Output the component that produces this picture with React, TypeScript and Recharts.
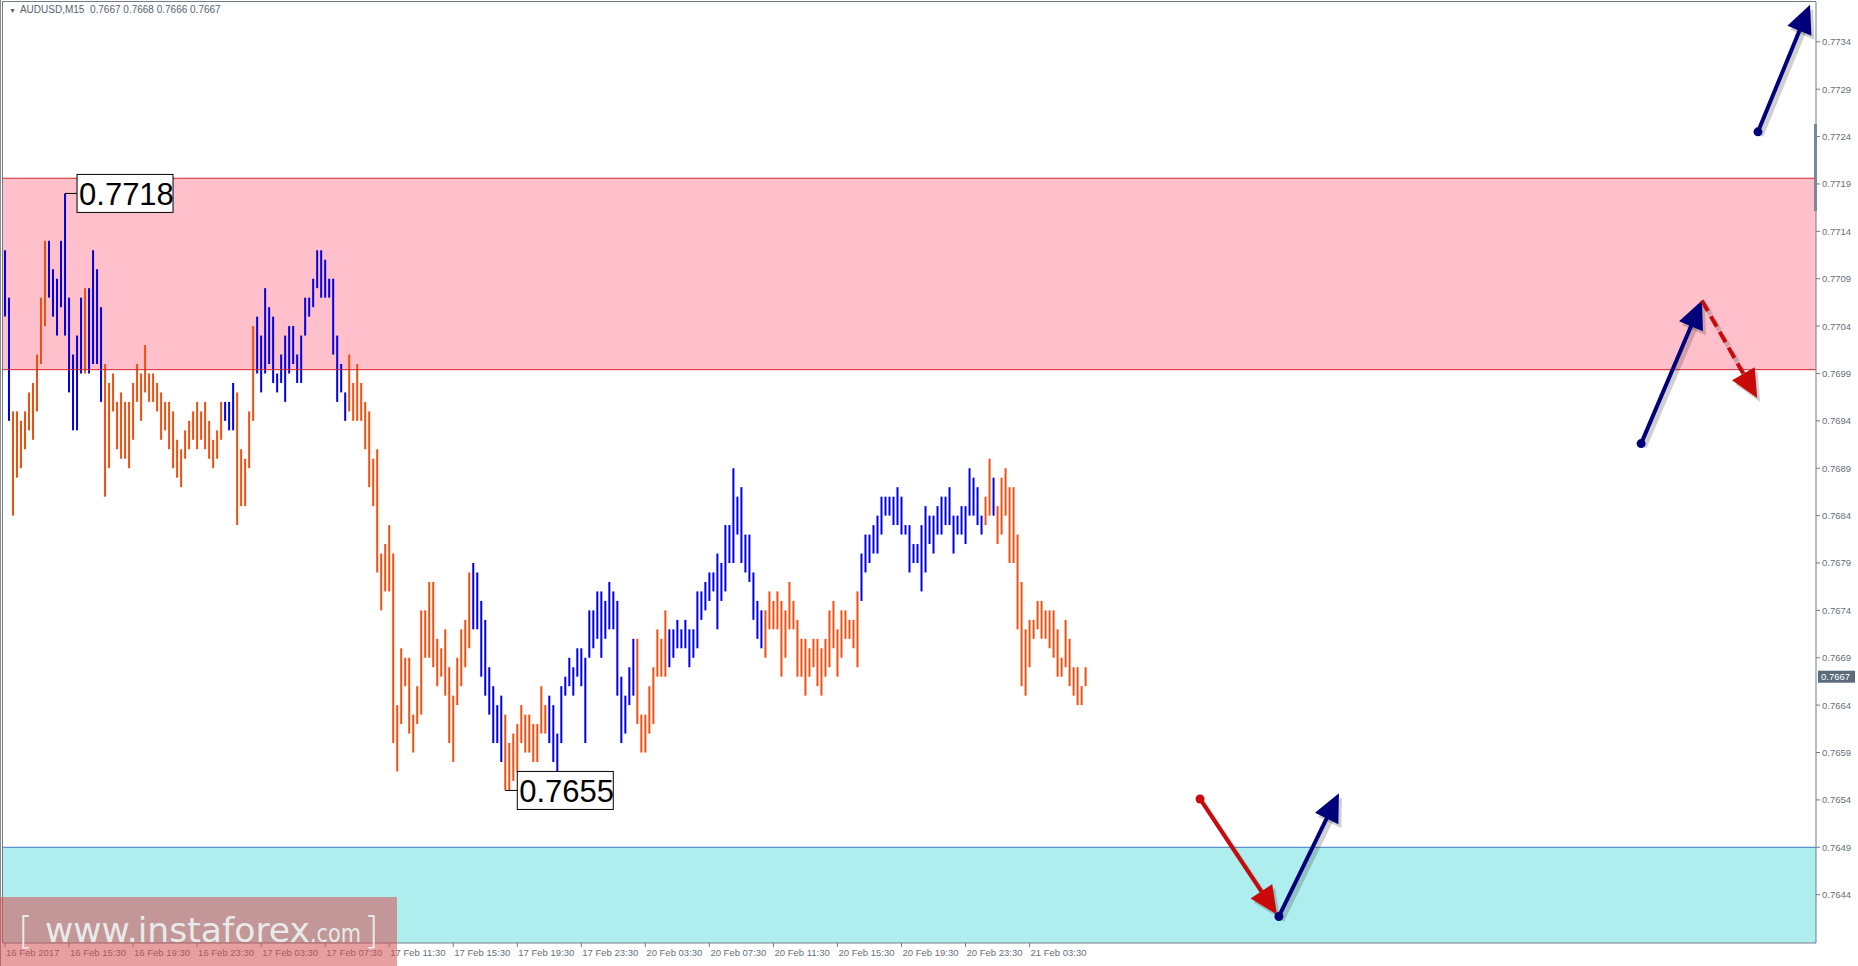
import React from "react";
import {
  ComposedChart, Bar, Cell, XAxis, YAxis,
  ReferenceArea, ReferenceLine, ReferenceDot
} from "recharts";

// AUDUSD M15 bars (high / low per bar, oldest first)
const highs = [
  0.7712, 0.7707, 0.7695, 0.7695, 0.7694, 0.7695, 0.7697, 0.7698, 0.7701, 0.7707,
  0.7713, 0.7713, 0.7710, 0.7709, 0.7713, 0.7718, 0.7707, 0.7701, 0.7703, 0.7707,
  0.7708, 0.7708, 0.7712, 0.7710, 0.7706, 0.7700, 0.7698, 0.7699, 0.7696, 0.7697,
  0.7696, 0.7696, 0.7698, 0.7700, 0.7699, 0.7702, 0.7699, 0.7699, 0.7698, 0.7697,
  0.7696, 0.7696, 0.7695, 0.7692, 0.7691, 0.7693, 0.7694, 0.7695, 0.7696, 0.7695,
  0.7696, 0.7694, 0.7692, 0.7693, 0.7696, 0.7696, 0.7696, 0.7698, 0.7697, 0.7691,
  0.7690, 0.7695, 0.7704, 0.7705, 0.7703, 0.7708, 0.7706, 0.7705, 0.7699, 0.7701,
  0.7703, 0.7704, 0.7704, 0.7701, 0.7703, 0.7707, 0.7707, 0.7709, 0.7712, 0.7712,
  0.7711, 0.7709, 0.7709, 0.7703, 0.7700, 0.7697, 0.7701, 0.7698, 0.7700, 0.7698,
  0.7696, 0.7695, 0.7690, 0.7691, 0.7680, 0.7681, 0.7683, 0.7680, 0.7664, 0.7670,
  0.7669, 0.7669, 0.7663, 0.7666, 0.7674, 0.7674, 0.7677, 0.7677, 0.7671, 0.7670,
  0.7672, 0.7668, 0.7665, 0.7669, 0.7672, 0.7673, 0.7678, 0.7679, 0.7678, 0.7675,
  0.7673, 0.7668, 0.7666, 0.7664, 0.7665, 0.7663, 0.7660, 0.7661, 0.7662, 0.7664,
  0.7663, 0.7663, 0.7662, 0.7662, 0.7666, 0.7664, 0.7665, 0.7664, 0.7661, 0.7666,
  0.7667, 0.7669, 0.7668, 0.7670, 0.7670, 0.7669, 0.7674, 0.7674, 0.7676, 0.7676,
  0.7675, 0.7677, 0.7676, 0.7675, 0.7667, 0.7665, 0.7668, 0.7671, 0.7671, 0.7663,
  0.7663, 0.7666, 0.7668, 0.7672, 0.7671, 0.7674, 0.7672, 0.7672, 0.7673, 0.7672,
  0.7673, 0.7672, 0.7672, 0.7676, 0.7676, 0.7677, 0.7678, 0.7678, 0.7680, 0.7679,
  0.7683, 0.7683, 0.7689, 0.7686, 0.7687, 0.7682, 0.7682, 0.7678, 0.7675, 0.7674,
  0.7674, 0.7676, 0.7675, 0.7676, 0.7675, 0.7674, 0.7677, 0.7675, 0.7673, 0.7671,
  0.7671, 0.7670, 0.7671, 0.7671, 0.7670, 0.7671, 0.7674, 0.7675, 0.7672, 0.7674,
  0.7674, 0.7673, 0.7673, 0.7676, 0.7680, 0.7682, 0.7682, 0.7683, 0.7684, 0.7686,
  0.7686, 0.7686, 0.7686, 0.7687, 0.7686, 0.7683, 0.7683, 0.7681, 0.7681, 0.7683,
  0.7685, 0.7684, 0.7684, 0.7685, 0.7686, 0.7686, 0.7687, 0.7684, 0.7684, 0.7685,
  0.7685, 0.7689, 0.7688, 0.7687, 0.7684, 0.7686, 0.7690, 0.7688, 0.7685, 0.7688,
  0.7689, 0.7687, 0.7687, 0.7682, 0.7677, 0.7672, 0.7673, 0.7673, 0.7675, 0.7675,
  0.7674, 0.7674, 0.7674, 0.7672, 0.7669, 0.7673, 0.7671, 0.7668, 0.7668, 0.7666,
  0.7668,
];

const lows = [
  0.7705, 0.7694, 0.7684, 0.7688, 0.7689, 0.7691, 0.7693, 0.7692, 0.7695, 0.7700,
  0.7704, 0.7707, 0.7705, 0.7703, 0.7706, 0.7703, 0.7697, 0.7693, 0.7693, 0.7699,
  0.7699, 0.7699, 0.7700, 0.7700, 0.7696, 0.7686, 0.7689, 0.7695, 0.7691, 0.7690,
  0.7690, 0.7689, 0.7692, 0.7696, 0.7694, 0.7697, 0.7696, 0.7696, 0.7695, 0.7692,
  0.7693, 0.7691, 0.7689, 0.7688, 0.7687, 0.7690, 0.7691, 0.7692, 0.7691, 0.7692,
  0.7691, 0.7690, 0.7689, 0.7690, 0.7692, 0.7694, 0.7693, 0.7693, 0.7683, 0.7685,
  0.7685, 0.7689, 0.7694, 0.7699, 0.7697, 0.7699, 0.7700, 0.7698, 0.7697, 0.7698,
  0.7696, 0.7699, 0.7700, 0.7698, 0.7698, 0.7703, 0.7705, 0.7706, 0.7708, 0.7707,
  0.7707, 0.7707, 0.7701, 0.7696, 0.7697, 0.7694, 0.7695, 0.7694, 0.7694, 0.7694,
  0.7691, 0.7687, 0.7685, 0.7678, 0.7674, 0.7676, 0.7676, 0.7660, 0.7657, 0.7662,
  0.7666, 0.7661, 0.7659, 0.7662, 0.7663, 0.7669, 0.7669, 0.7668, 0.7666, 0.7667,
  0.7665, 0.7660, 0.7658, 0.7664, 0.7666, 0.7668, 0.7670, 0.7672, 0.7672, 0.7667,
  0.7665, 0.7663, 0.7660, 0.7660, 0.7658, 0.7655, 0.7655, 0.7656, 0.7657, 0.7660,
  0.7659, 0.7659, 0.7658, 0.7658, 0.7661, 0.7661, 0.7660, 0.7658, 0.7657, 0.7660,
  0.7665, 0.7666, 0.7665, 0.7667, 0.7666, 0.7660, 0.7669, 0.7670, 0.7671, 0.7669,
  0.7671, 0.7672, 0.7672, 0.7665, 0.7660, 0.7661, 0.7664, 0.7665, 0.7662, 0.7659,
  0.7659, 0.7661, 0.7662, 0.7667, 0.7667, 0.7667, 0.7668, 0.7669, 0.7670, 0.7670,
  0.7670, 0.7668, 0.7669, 0.7670, 0.7673, 0.7674, 0.7675, 0.7676, 0.7672, 0.7675,
  0.7676, 0.7679, 0.7679, 0.7682, 0.7679, 0.7678, 0.7677, 0.7673, 0.7671, 0.7670,
  0.7669, 0.7672, 0.7672, 0.7672, 0.7667, 0.7669, 0.7672, 0.7672, 0.7667, 0.7667,
  0.7665, 0.7667, 0.7668, 0.7666, 0.7665, 0.7667, 0.7668, 0.7670, 0.7667, 0.7669,
  0.7671, 0.7671, 0.7670, 0.7668, 0.7675, 0.7678, 0.7679, 0.7680, 0.7680, 0.7682,
  0.7684, 0.7684, 0.7683, 0.7683, 0.7682, 0.7682, 0.7678, 0.7679, 0.7679, 0.7676,
  0.7678, 0.7681, 0.7680, 0.7682, 0.7682, 0.7683, 0.7683, 0.7680, 0.7682, 0.7682,
  0.7681, 0.7684, 0.7684, 0.7683, 0.7682, 0.7683, 0.7684, 0.7684, 0.7681, 0.7682,
  0.7684, 0.7679, 0.7679, 0.7672, 0.7666, 0.7665, 0.7668, 0.7671, 0.7672, 0.7671,
  0.7671, 0.7670, 0.7669, 0.7667, 0.7667, 0.7668, 0.7666, 0.7665, 0.7664, 0.7664,
  0.7666,
];

// u = up bar (blue), d = down bar (orange)
const barDir = [
  "uudddddddd", "duuuuuuuuu", "duuuuddddd", "dddddddddd", "dddddddddd",
  "ddddduuudd", "ddduuuuuuu", "uuuuuuuuuu", "uuuuuudddd", "dddddddddd",
  "dddddddddd", "ddddddduuu", "uuuuuddddd", "dddddduuuu", "uuuuuuuuuu",
  "uuuuuuuudd", "dddddduuuu", "uuuuuuuuuu", "uuuuuuuuuu", "dddddddddd",
  "dddddddddd", "dddduuuuuu", "uuuuuuuuuu", "uuuuuuuuuu", "uuuuuddudd",
  "dddddddddd", "dddddddddd", "d",
].join("");

const timeTicks = [0, 16, 32, 48, 64, 80, 96, 112, 128, 144, 160, 176, 192, 208, 224, 240, 256];
const timeLabels = [
  "16 Feb 2017", "16 Feb 15:30", "16 Feb 19:30", "16 Feb 23:30", "17 Feb 03:30",
  "17 Feb 07:30", "17 Feb 11:30", "17 Feb 15:30", "17 Feb 19:30", "17 Feb 23:30",
  "20 Feb 03:30", "20 Feb 07:30", "20 Feb 11:30", "20 Feb 15:30", "20 Feb 19:30",
  "20 Feb 23:30", "21 Feb 03:30",
];

const priceTicks = [
  0.7734, 0.7729, 0.7724, 0.7719, 0.7714, 0.7709, 0.7704, 0.7699, 0.7694, 0.7689,
  0.7684, 0.7679, 0.7674, 0.7669, 0.7664, 0.7659, 0.7654, 0.7649, 0.7644,
];
const lastPrice = 0.7667;

// zones
const sellZone = [0.76994, 0.77196];
const buyZoneTop = 0.7649;

// swing labels [bar index, price]
const swingHigh = [15, 0.7718];
const swingLow = [125, 0.7655];

// forecast arrows: start [bar, price], end [bar, price]
const arrowFrom = [[438.0, 0.77245], [408.8, 0.76916], [424.0, 0.77067], [298.6, 0.76541], [318.3, 0.76417]];
const arrowTo = [[451.0, 0.77379], [424.0, 0.77067], [437.8, 0.76964], [317.8, 0.76419], [333.3, 0.76547]];
const arrowKind = ["up", "up", "downDash", "down", "up"];

const X_DOMAIN = [-0.5, 452.5];
const Y_DOMAIN = [0.76389, 0.77382];

const BLUE = "#0000e2";
const ORANGE = "#f0500f";
const NAVY = "#00007a";
const RED = "#c80a0a";
const AXIS = "#6f7d8a";
const TXT = "#66707a";
const FONT = "'Liberation Sans', Arial, sans-serif";

const data = highs.map((h, i) => ({ i, hl: [lows[i], h], up: barDir[i] === "u" }));

const XTick = (props: any) => {
  const { x, y, payload } = props;
  const label = timeLabels[timeTicks.indexOf(payload.value)];
  return (
    <g>
      <line x1={x} y1={y} x2={x} y2={y + 4} stroke={AXIS} />
      <text x={x + 1} y={y + 13} fontSize={9.5} fill={TXT} fontFamily={FONT}>{label}</text>
    </g>
  );
};

const YTick = (props: any) => {
  const { x, y, payload } = props;
  const v = payload.value;
  if (v === lastPrice) {
    return (
      <g>
        <rect x={x + 2} y={y - 6} width={37} height={12} fill="#5c6b7b" />
        <text x={x + 5} y={y + 3.5} fontSize={9.5} fill="#fff" fontFamily={FONT}>{v.toFixed(4)}</text>
      </g>
    );
  }
  return (
    <g>
      <line x1={x} y1={y} x2={x + 4} y2={y} stroke={AXIS} />
      <text x={x + 6} y={y + 3.5} fontSize={9.5} fill={TXT} fontFamily={FONT}>{v.toFixed(4)}</text>
    </g>
  );
};

const priceBox = (text: string) => (p: any) => {
  const { cx, cy } = p;
  return (
    <g>
      <line x1={cx} y1={cy} x2={cx + 12} y2={cy} stroke="#000" />
      <rect x={cx + 12} y={cy - 19} width={96} height={38} fill="#fff" stroke="#000" />
      <text x={cx + 14} y={cy + 12} fontSize={31} fontFamily={FONT} fill="#000">{text}</text>
    </g>
  );
};

const arrowShape = (kind: string) => (p: any) => {
  const { x1, y1, x2, y2 } = p;
  const color = kind === "up" ? NAVY : RED;
  const dashed = kind === "downDash";
  const dash = dashed ? "12 6" : undefined;
  const dx = x2 - x1, dy = y2 - y1;
  const len = Math.hypot(dx, dy) || 1;
  const ux = dx / len, uy = dy / len;
  const nx = -uy, ny = ux;
  const hl = 28, hw = 13;
  const bx = x2 - ux * hl, by = y2 - uy * hl;
  const ex = x2 - ux * hl * 0.6, ey = y2 - uy * hl * 0.6;
  const head = (ox: number, oy: number) =>
    `${x2 + ox},${y2 + oy} ${bx + nx * hw + ox},${by + ny * hw + oy} ${bx - nx * hw + ox},${by - ny * hw + oy}`;
  return (
    <g>
      <line x1={x1 + 3} y1={y1 + 4} x2={ex + 3} y2={ey + 4} stroke="rgba(40,40,40,0.22)" strokeWidth={5} strokeDasharray={dash} />
      <polygon points={head(3, 4)} fill="rgba(40,40,40,0.22)" />
      <line x1={x1} y1={y1} x2={ex} y2={ey} stroke={color} strokeWidth={4} strokeDasharray={dash} />
      <polygon points={head(0, 0)} fill={color} />
      {!dashed && <circle cx={x1} cy={y1} r={4.5} fill={color} />}
    </g>
  );
};

export default function App() {
  return (
    <div style={{ position: "absolute", left: 0, top: 0, width: 1858, height: 966, background: "#fff", overflow: "hidden" }}>
      <ComposedChart width={1858} height={966} data={data} margin={{ top: 2, right: 0, bottom: 0, left: 3 }}>
        <XAxis
          dataKey="i"
          type="number"
          domain={X_DOMAIN}
          ticks={timeTicks}
          interval={0}
          tick={<XTick />}
          tickSize={0}
          tickMargin={0}
          height={23}
          axisLine={{ stroke: AXIS }}
          allowDataOverflow
        />
        <YAxis
          orientation="right"
          type="number"
          domain={Y_DOMAIN}
          ticks={[...priceTicks, lastPrice]}
          interval={0}
          tick={<YTick />}
          tickSize={0}
          tickMargin={0}
          width={42}
          axisLine={{ stroke: AXIS }}
          allowDataOverflow
        />
        <ReferenceArea y1={sellZone[0]} y2={sellZone[1]} fill="#ffc0cb" fillOpacity={1} stroke="none" ifOverflow="visible" />
        <ReferenceArea y1={Y_DOMAIN[0]} y2={buyZoneTop} fill="#afeeee" fillOpacity={1} stroke="none" ifOverflow="visible" />
        <ReferenceLine y={sellZone[1]} stroke="#d22828" />
        <ReferenceLine y={sellZone[0]} stroke="#d22828" />
        <ReferenceLine y={buyZoneTop} stroke="#3c78c0" />
        <Bar dataKey="hl" barSize={2} isAnimationActive={false}>
          {data.map((d) => (
            <Cell key={d.i} fill={d.up ? BLUE : ORANGE} />
          ))}
        </Bar>
        <ReferenceDot x={swingHigh[0]} y={swingHigh[1]} r={0} ifOverflow="visible" shape={priceBox("0.7718")} />
        <ReferenceDot x={swingLow[0]} y={swingLow[1]} r={0} ifOverflow="visible" shape={priceBox("0.7655")} />
        {arrowFrom.map((f, k) => (
          <ReferenceLine
            key={k}
            segment={[{ x: f[0], y: f[1] }, { x: arrowTo[k][0], y: arrowTo[k][1] }]}
            ifOverflow="visible"
            stroke={arrowKind[k] === "up" ? NAVY : RED}
            shape={arrowShape(arrowKind[k])}
          />
        ))}
      </ComposedChart>

      {/* chart frame */}
      <div style={{ position: "absolute", left: 0, top: 0, width: 1, height: 966, background: "#8a8a8a" }} />
      <div style={{ position: "absolute", left: 2, top: 1, width: 1814, height: 1, background: AXIS }} />
      <div style={{ position: "absolute", left: 2, top: 1, width: 1, height: 942, background: AXIS }} />
      <div style={{ position: "absolute", left: 1814, top: 124, width: 3, height: 87, background: "#7c8894" }} />

      {/* header */}
      <div style={{ position: "absolute", left: 9, top: 4, fontFamily: FONT, fontSize: 10, color: "#58626e", whiteSpace: "pre" }}>
        <span style={{ fontSize: 7, marginRight: 4 }}>▼</span>AUDUSD,M15  0.7667 0.7668 0.7666 0.7667
      </div>

      {/* watermark */}
      <svg style={{ position: "absolute", left: 0, top: 897 }} width={397} height={69}>
        <rect x={0} y={0} width={397} height={69} fill="rgba(212,78,78,0.54)" />
        <g fill="rgba(238,246,246,0.9)" fontFamily="'DejaVu Sans', Verdana, sans-serif">
          <text x={18} y={46} fontSize={38} fontWeight={200}>[</text>
          <text x={45} y={45} fontSize={34} textLength={265} lengthAdjust="spacingAndGlyphs">www.instaforex</text>
          <text x={310} y={45} fontSize={24} textLength={51} lengthAdjust="spacingAndGlyphs">.com</text>
          <text x={364} y={46} fontSize={38} fontWeight={200}>]</text>
        </g>
      </svg>
    </div>
  );
}
